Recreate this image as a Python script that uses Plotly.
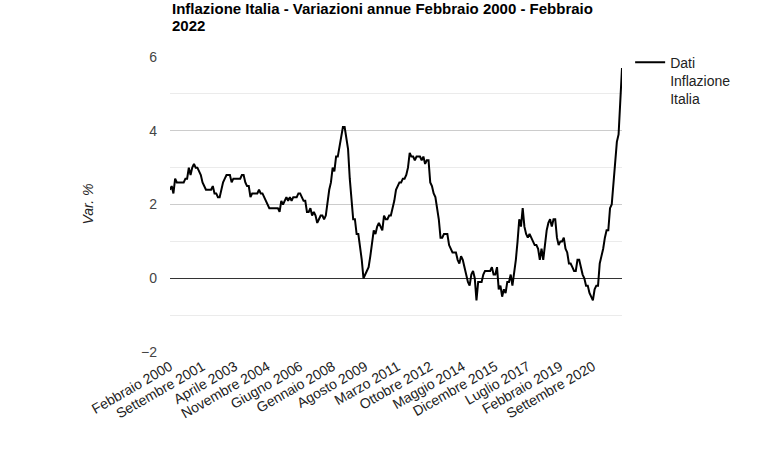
import plotly.graph_objects as go

# ---- Data: ISTAT annual inflation (%), Feb 2000 - Feb 2022 ----
mesi = ["Gennaio", "Febbraio", "Marzo", "Aprile", "Maggio", "Giugno",
        "Luglio", "Agosto", "Settembre", "Ottobre", "Novembre", "Dicembre"]

infl_2000 = [2.4, 2.5, 2.3, 2.7, 2.6, 2.6, 2.6, 2.6, 2.6, 2.7, 2.7]  # Feb-Dec
infl_2001 = [3.0, 2.8, 3.0, 3.1, 3.0, 3.0, 2.9, 2.8, 2.6, 2.5, 2.4, 2.4]
infl_2002 = [2.4, 2.4, 2.5, 2.3, 2.3, 2.2, 2.2, 2.4, 2.6, 2.7, 2.8, 2.8]
infl_2003 = [2.8, 2.6, 2.7, 2.7, 2.7, 2.7, 2.7, 2.8, 2.8, 2.6, 2.5, 2.5]
infl_2004 = [2.2, 2.3, 2.3, 2.3, 2.3, 2.4, 2.3, 2.3, 2.2, 2.1, 2.0, 1.9]
infl_2005 = [1.9, 1.9, 1.9, 1.9, 1.9, 1.8, 2.1, 2.0, 2.1, 2.2, 2.1, 2.2]
infl_2006 = [2.1, 2.2, 2.2, 2.2, 2.3, 2.3, 2.2, 2.1, 2.1, 1.8, 1.8, 1.9]
infl_2007 = [1.7, 1.8, 1.7, 1.5, 1.6, 1.7, 1.7, 1.6, 1.7, 2.1, 2.4, 2.6]
infl_2008 = [3.0, 2.9, 3.3, 3.3, 3.6, 3.8, 4.1, 4.1, 3.8, 3.5, 2.7, 2.2]
infl_2009 = [1.6, 1.6, 1.2, 1.2, 0.9, 0.5, 0.0, 0.1, 0.2, 0.3, 0.6, 1.0]
infl_2010 = [1.3, 1.2, 1.4, 1.5, 1.4, 1.3, 1.7, 1.6, 1.6, 1.7, 1.7, 1.9]
infl_2011 = [2.1, 2.4, 2.5, 2.6, 2.6, 2.7, 2.7, 2.8, 3.0, 3.4, 3.3, 3.3]
infl_2012 = [3.2, 3.3, 3.3, 3.3, 3.2, 3.3, 3.1, 3.2, 3.2, 2.6, 2.5, 2.3]
infl_2013 = [2.2, 1.9, 1.6, 1.1, 1.1, 1.2, 1.2, 1.2, 0.9, 0.8, 0.7, 0.7]
infl_2014 = [0.7, 0.5, 0.4, 0.6, 0.5, 0.3, 0.1, -0.1, -0.2, 0.1, 0.2, 0.0]
infl_2015 = [-0.6, -0.1, -0.1, -0.1, 0.1, 0.2, 0.2, 0.2, 0.2, 0.3, 0.1, 0.1]
infl_2016 = [0.3, -0.3, -0.2, -0.5, -0.3, -0.4, -0.1, -0.1, 0.1, -0.2, 0.1, 0.5]
infl_2017 = [1.0, 1.6, 1.4, 1.9, 1.4, 1.2, 1.1, 1.2, 1.1, 1.0, 0.9, 0.9]
infl_2018 = [0.8, 0.5, 0.8, 0.5, 1.0, 1.3, 1.5, 1.6, 1.4, 1.6, 1.6, 1.1]
infl_2019 = [0.9, 1.0, 1.0, 1.1, 0.8, 0.7, 0.4, 0.4, 0.3, 0.2, 0.2, 0.5]
infl_2020 = [0.5, 0.3, 0.1, 0.0, -0.2, -0.2, -0.4, -0.5, -0.6, -0.3, -0.2, -0.2]
infl_2021 = [0.4, 0.6, 0.8, 1.1, 1.3, 1.3, 1.9, 2.0, 2.5, 3.0, 3.7, 3.9]
infl_2022 = [4.8, 5.7]  # Jan-Feb

tick_labels = ["Febbraio 2000", "Settembre 2001", "Aprile 2003", "Novembre 2004",
               "Giugno 2006", "Gennaio 2008", "Agosto 2009", "Marzo 2011",
               "Ottobre 2012", "Maggio 2014", "Dicembre 2015", "Luglio 2017",
               "Febbraio 2019", "Settembre 2020"]

series_name = "Dati<br>Inflazione<br>Italia"
title_lines = ["Inflazione Italia - Variazioni annue Febbraio 2000 - Febbraio", "2022"]
y_title = "Var. %"

# ---- Build series ----
yearly = [infl_2000, infl_2001, infl_2002, infl_2003, infl_2004, infl_2005,
          infl_2006, infl_2007, infl_2008, infl_2009, infl_2010, infl_2011,
          infl_2012, infl_2013, infl_2014, infl_2015, infl_2016, infl_2017,
          infl_2018, infl_2019, infl_2020, infl_2021, infl_2022]
labels, values = [], []
for i, vals in enumerate(yearly):
    year = 2000 + i
    start = 1 if year == 2000 else 0
    for j, v in enumerate(vals):
        labels.append(f"{mesi[start + j]} {year}")
        values.append(v)

FONT = "Arial, 'Liberation Sans', sans-serif"
W, H = 775, 450
M_L, M_R, M_T, M_B = 170, 153, 57, 98
PH = H - M_T - M_B  # plot height in px


def py(pix):
    """pixel row -> paper y"""
    return (H - M_B - pix) / PH


fig = go.Figure(go.Scatter(
    x=labels, y=values, mode="lines",
    line=dict(color="#000000", width=2),
    name=series_name, showlegend=True,
))

title_annots = [
    dict(text=f"<b>{t}</b>", x=0, xref="paper", xanchor="left",
         y=py(yc), yref="paper", yanchor="middle",
         showarrow=False, font=dict(family=FONT, size=15, color="#000000"))
    for t, yc in zip(title_lines, [8.5, 25.5])
]

fig.update_layout(
    width=W, height=H,
    margin=dict(l=M_L, r=M_R, t=M_T, b=M_B),
    paper_bgcolor="white", plot_bgcolor="white",
    font=dict(family=FONT, size=13, color="#222222"),
    showlegend=True,
    legend=dict(x=1.018, y=1.035, xanchor="left", yanchor="top",
                valign="top", font=dict(family=FONT, size=14, color="#222222"),
                bgcolor="rgba(0,0,0,0)", itemwidth=30),
    xaxis=dict(type="category", tickmode="array", tickvals=tick_labels,
               ticktext=tick_labels, tickangle=-30, showgrid=False,
               showline=False, zeroline=False, ticks="", ticklabelstandoff=3,
               range=[0, len(labels) - 1],
               tickfont=dict(family=FONT, size=14, color="#222222")),
    yaxis=dict(range=[-2, 6], tick0=0, dtick=2, showgrid=True,
               gridcolor="#cccccc", gridwidth=1,
               minor=dict(tick0=0, dtick=1, showgrid=True, gridcolor="#ebebeb", gridwidth=1),
               zeroline=True, zerolinecolor="#333333", zerolinewidth=1,
               showline=False, ticks="", ticklabelstandoff=12,
               tickfont=dict(family=FONT, size=14, color="#444444")),
    annotations=title_annots + [
        dict(text=f"<i>{y_title}</i>", textangle=-90,
             x=(87 - M_L) / (W - M_L - M_R), xref="paper", xanchor="center",
             y=0.5, yref="paper", yanchor="middle", showarrow=False,
             font=dict(family=FONT, size=14, color="#222222"))],
)

fig.write_html("out.html", config={"displayModeBar": False},
               post_script="document.body.style.margin='0';")
